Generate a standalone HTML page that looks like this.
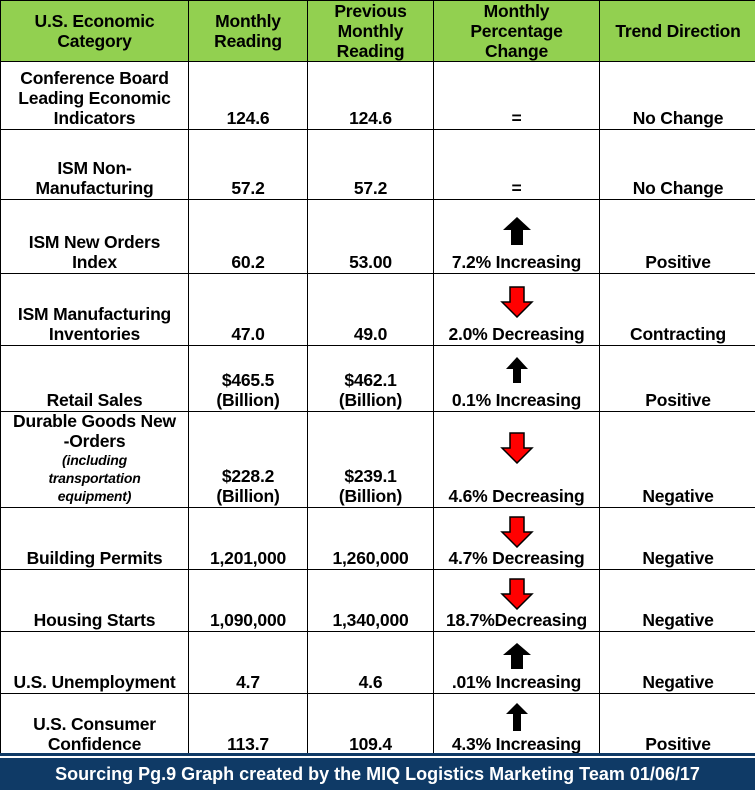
<!DOCTYPE html>
<html><head><meta charset="utf-8"><style>
body{margin:0;width:755px;height:788px;overflow:hidden;background:#fff;font-family:"Liberation Sans",Arial,sans-serif}
table{position:absolute;left:0;top:0;border-collapse:collapse;table-layout:fixed;width:756px}
td,th{border:1px solid #000;padding:0 0 1px;text-align:center;vertical-align:bottom;font-weight:bold;font-size:17.5px;line-height:20px;color:#000;overflow:hidden;white-space:nowrap;letter-spacing:-0.2px}
th{background:#92d050;vertical-align:middle;font-size:17.5px;line-height:20px;padding:0}
.arr{display:block;margin:0 auto 6px}
.it{display:block;font-style:italic;font-size:14px;line-height:18px}
#footer{position:absolute;left:0;top:756px;width:755px;height:32px;background:#0f3a66;border-top:2px solid #fff;box-shadow:0 -3px 0 #0f3a66;color:#fff;font-family:"Liberation Sans Narrow","Liberation Sans",sans-serif;font-weight:bold;font-size:18px;line-height:32px;text-align:center}
</style></head><body>
<table>
<colgroup><col style="width:188px"><col style="width:119px"><col style="width:126px"><col style="width:166px"><col style="width:157px"></colgroup>
<tr style="height:59px"><th>U.S. Economic<br>Category</th><th>Monthly<br>Reading</th><th>Previous<br>Monthly<br>Reading</th><th>Monthly<br>Percentage<br>Change</th><th>Trend Direction</th></tr>
<tr style="height:68px"><td>Conference Board<br>Leading Economic<br>Indicators</td><td>124.6</td><td>124.6</td><td>=</td><td>No Change</td></tr>
<tr style="height:70px"><td>ISM Non-<br>Manufacturing</td><td>57.2</td><td>57.2</td><td>=</td><td>No Change</td></tr>
<tr style="height:74px"><td>ISM New Orders<br>Index</td><td>60.2</td><td>53.00</td><td><svg class="arr" width="30" height="30" viewBox="0 0 30 30"><path d="M15 1 L29 14 L21 14 L21 29 L9 29 L9 14 L1 14Z" fill="#000"/></svg>7.2% Increasing</td><td>Positive</td></tr>
<tr style="height:72px"><td>ISM Manufacturing<br>Inventories</td><td>47.0</td><td>49.0</td><td><svg class="arr" width="34" height="32" viewBox="0 0 34 32"><path d="M10 1 L24 1 L24 16 L32 16 L17 31 L2 16 L10 16Z" fill="#f00" stroke="#000" stroke-width="1.5"/></svg>2.0% Decreasing</td><td>Contracting</td></tr>
<tr style="height:66px"><td>Retail Sales</td><td>$465.5<br>(Billion)</td><td>$462.1<br>(Billion)</td><td><svg class="arr" width="24" height="28" viewBox="0 0 24 28"><path d="M12 1 L23 13 L16 13 L16 27 L8 27 L8 13 L1 13Z" fill="#000"/></svg>0.1% Increasing</td><td>Positive</td></tr>
<tr style="height:96px"><td style="vertical-align:top;padding-top:0;line-height:19.5px">Durable Goods New<br>-Orders<span class="it">(including<br>transportation<br>equipment)</span></td><td>$228.2<br>(Billion)</td><td>$239.1<br>(Billion)</td><td><svg class="arr" style="margin-bottom:22px" width="34" height="32" viewBox="0 0 34 32"><path d="M10 1 L24 1 L24 16 L32 16 L17 31 L2 16 L10 16Z" fill="#f00" stroke="#000" stroke-width="1.5"/></svg>4.6% Decreasing</td><td>Negative</td></tr>
<tr style="height:62px"><td>Building Permits</td><td>1,201,000</td><td>1,260,000</td><td><svg class="arr" style="margin-bottom:0" width="34" height="32" viewBox="0 0 34 32"><path d="M10 1 L24 1 L24 16 L32 16 L17 31 L2 16 L10 16Z" fill="#f00" stroke="#000" stroke-width="1.5"/></svg>4.7% Decreasing</td><td>Negative</td></tr>
<tr style="height:62px"><td>Housing Starts</td><td>1,090,000</td><td>1,340,000</td><td><svg class="arr" style="margin-bottom:0" width="34" height="32" viewBox="0 0 34 32"><path d="M10 1 L24 1 L24 16 L32 16 L17 31 L2 16 L10 16Z" fill="#f00" stroke="#000" stroke-width="1.5"/></svg>18.7%Decreasing</td><td>Negative</td></tr>
<tr style="height:62px"><td>U.S. Unemployment</td><td>4.7</td><td>4.6</td><td><svg class="arr" style="margin-bottom:2px" width="30" height="28" viewBox="0 0 30 28"><path d="M15 1 L29 13 L21 13 L21 27 L9 27 L9 13 L1 13Z" fill="#000"/></svg>.01% Increasing</td><td>Negative</td></tr>
<tr style="height:64px"><td style="padding-bottom:3px">U.S. Consumer<br>Confidence</td><td style="padding-bottom:3px">113.7</td><td style="padding-bottom:3px">109.4</td><td style="padding-bottom:3px"><svg class="arr" style="margin-bottom:2px" width="24" height="30" viewBox="0 0 24 30"><path d="M12 1 L23 12 L16 12 L16 29 L8 29 L8 12 L1 12Z" fill="#000"/></svg>4.3% Increasing</td><td style="padding-bottom:3px">Positive</td></tr>
</table>
<div id="footer">Sourcing Pg.9 Graph created by the MIQ Logistics Marketing Team 01/06/17</div>
</body></html>
